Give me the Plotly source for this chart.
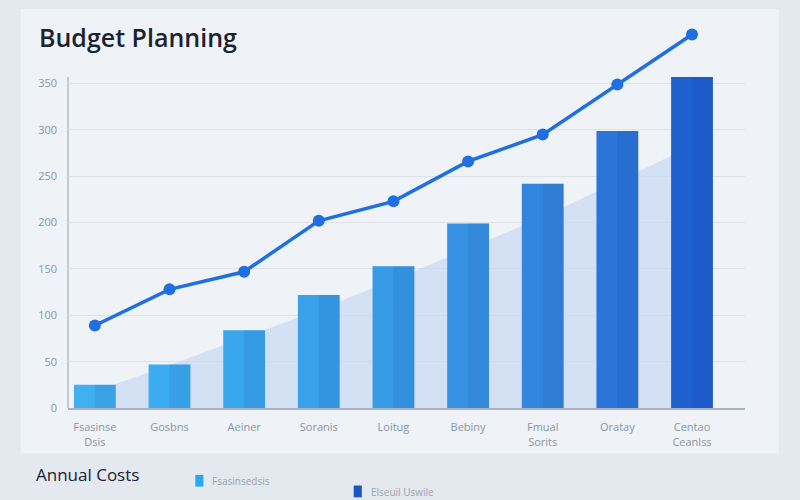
import plotly.graph_objects as go

categories = ["Fsasinse<br>Dsis", "Gosbns", "Aeiner", "Soranis", "Loitug",
              "Bebiny", "Fmual<br>Sorits", "Oratay", "Centao<br>Ceanlss"]
bar_values = [25, 47, 84, 122, 153, 199, 242, 299, 357]
line_values = [89, 128, 147, 202, 223, 266, 295, 349, 403]
trend_values = [18, 46, 76, 106, 138, 172, 206, 244, 283]
bar_colors = ["#40b0f2", "#3cacf0", "#39a7ed", "#38a1ea", "#389be8",
              "#3792e5", "#3485de", "#2c74d8", "#1f60cf"]
y_ticks = [0, 50, 100, 150, 200, 250, 300, 350]
legend_names = ["Fsasinsedsis", "Elseuil Uswile"]

fig = go.Figure()

# background trend area on the base axis (drawn beneath the overlaid axis)
fig.add_trace(go.Scatter(
    x=categories, y=trend_values, mode="lines", line=dict(width=0, color="rgba(0,0,0,0)"),
    fill="tozeroy", fillcolor="rgba(196,214,243,0.65)", showlegend=False, hoverinfo="skip",
    xaxis="x", yaxis="y"))

fig.add_trace(go.Bar(
    x=categories, y=bar_values, marker=dict(color=bar_colors, line=dict(width=0)),
    width=0.56, offset=-0.28, name=legend_names[0], showlegend=False,
    xaxis="x", yaxis="y2"))

fig.add_trace(go.Bar(
    x=categories, y=bar_values, marker=dict(color="rgba(10,50,140,0.10)", line=dict(width=0)),
    width=0.28, offset=0.0, showlegend=False, hoverinfo="skip",
    xaxis="x", yaxis="y2"))

fig.add_trace(go.Scatter(
    x=categories, y=line_values, mode="lines+markers", name=legend_names[1],
    line=dict(color="#1f6fe0", width=3.5), marker=dict(size=12, color="#1f6fe0"),
    showlegend=False, xaxis="x", yaxis="y2"))

shapes = [
    dict(type="rect", xref="paper", yref="paper", x0=-0.1, x1=1.1, y0=-0.3, y1=1.2,
         fillcolor="#e4e9ef", line=dict(width=0), layer="below"),
    dict(type="rect", xref="paper", yref="paper", x0=-0.07, x1=1.05, y0=-0.12, y1=1.05,
         fillcolor="#eff2f6", line=dict(width=0), layer="below"),
    # y axis line (stops just above the top tick, as in the reference)
    dict(type="line", xref="paper", yref="y", x0=0, x1=0, y0=0, y1=357,
         line=dict(color="#b5bcc6", width=1.5), layer="below"),
    # legend swatches
    dict(type="rect", xref="paper", yref="paper", x0=0.188, x1=0.200, y0=-0.207, y1=-0.176,
         fillcolor="#2aa8f0", line=dict(width=0)),
    dict(type="rect", xref="paper", yref="paper", x0=0.422, x1=0.434, y0=-0.235, y1=-0.204,
         fillcolor="#1a57c4", line=dict(width=0)),
]

annotations = [
    dict(text="Budget Planning", xref="paper", yref="paper", x=-0.046, y=0.976,
         xanchor="left", yanchor="middle", showarrow=False,
         font=dict(family="Open Sans", size=25, color="#1b2230", weight=600)),
    dict(text="Annual Costs", xref="paper", yref="paper", x=-0.05, y=-0.175,
         xanchor="left", yanchor="middle", showarrow=False,
         font=dict(family="Open Sans", size=17, color="#1b2230", weight=500)),
    dict(text=legend_names[0], xref="paper", yref="paper", x=0.21, y=-0.192,
         xanchor="left", yanchor="middle", showarrow=False,
         font=dict(family="Open Sans", size=10, color="#9aa2ad")),
    dict(text=legend_names[1], xref="paper", yref="paper", x=0.445, y=-0.22,
         xanchor="left", yanchor="middle", showarrow=False,
         font=dict(family="Open Sans", size=10, color="#9aa2ad")),
]

fig.update_layout(
    width=800, height=500,
    margin=dict(l=68, r=55, t=28, b=92),
    paper_bgcolor="#e4e9ef", plot_bgcolor="rgba(0,0,0,0)",
    barmode="overlay", showlegend=False,
    shapes=shapes, annotations=annotations,
    font=dict(family="Open Sans", color="#8b95a2"),
    xaxis=dict(type="category", range=[-0.36, 8.71], showgrid=False,
               showline=True, linecolor="#aab3be", linewidth=2,
               ticks="", ticklabelstandoff=8,
               tickfont=dict(size=11, color="#8b95a2")),
    yaxis=dict(range=[0, 410], tickvals=y_ticks, showgrid=True, gridcolor="#dde2e8",
               gridwidth=1, showline=False,
               zeroline=False, ticks="", ticklabelstandoff=10,
               tickfont=dict(size=11, color="#8b95a2")),
    yaxis2=dict(range=[0, 410], overlaying="y", side="left", showgrid=False,
                showline=False, zeroline=False, showticklabels=False, ticks=""),
)

fig.write_html("out.html")
